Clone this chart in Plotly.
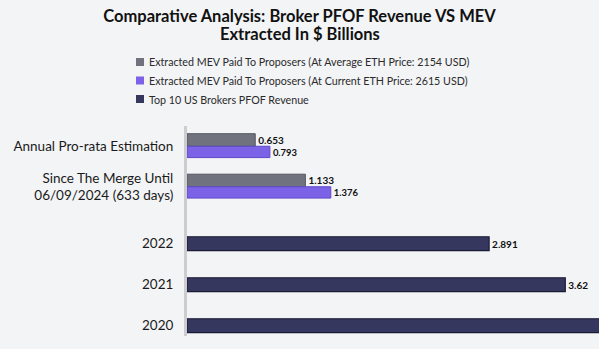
import plotly.graph_objects as go

# ---- data ----
mev_categories = ["Annual Pro-rata Estimation", "Since The Merge Until<br>06/09/2024 (633 days)"]
mev_avg_price = [0.653, 1.133]
mev_current_price = [0.793, 1.376]
pfof_years = ["2022", "2021", "2020"]
pfof_revenue = [2.891, 3.62, 4.30]

series_names = [
    "Extracted MEV Paid To Proposers (At Average ETH Price: 2154 USD)",
    "Extracted MEV Paid To Proposers (At Current ETH Price: 2615 USD)",
    "Top 10 US Brokers PFOF Revenue",
]
title_line1 = "Comparative Analysis: Broker PFOF Revenue VS MEV"
title_line2 = "Extracted In $ Billions"

# ---- style ----
W, H = 599, 349
L = 187
BG = "#f3f4f6"
C_GRAY, C_PURPLE, C_NAVY = "#70737e", "#7b62e6", "#36375e"
FONT = "Lato"
x_max = (W - L) / 104.5


def py(px):
    return 1 - px / H


def pxx(px):
    return (px - L) / (W - L)


def labels(vals):
    return [f"{v:g}" if v <= x_max else "" for v in vals]


fig = go.Figure()
lab_font = dict(family=FONT, size=10, color="#111111", weight="bold")

fig.add_trace(go.Bar(
    y=mev_categories, x=mev_avg_price, orientation="h", name=series_names[0],
    marker=dict(color=C_GRAY, line=dict(color="#55585f", width=1)),
    offset=-0.31, width=0.31, text=labels(mev_avg_price),
    textposition="outside", textfont=lab_font, cliponaxis=False,
    xaxis="x", yaxis="y",
))
fig.add_trace(go.Bar(
    y=mev_categories, x=mev_current_price, orientation="h", name=series_names[1],
    marker=dict(color=C_PURPLE, line=dict(color="#5f48c8", width=1)),
    offset=0.0, width=0.28, text=labels(mev_current_price),
    textposition="outside", textfont=lab_font, cliponaxis=False,
    xaxis="x", yaxis="y",
))
fig.add_trace(go.Bar(
    y=pfof_years, x=pfof_revenue, orientation="h", name=series_names[2],
    marker=dict(color=C_NAVY, line=dict(color="#1b1b36", width=1.2)),
    offset=-0.17, width=0.34, text=labels(pfof_revenue),
    textposition="outside", textfont=lab_font, cliponaxis=True,
    xaxis="x2", yaxis="y2",
))

# legend drawn as squares + text
legend_y = [62, 80.5, 99]
for nm, col, yy in zip(series_names, [C_GRAY, C_PURPLE, C_NAVY], legend_y):
    fig.add_shape(type="rect", xref="paper", yref="paper",
                  x0=pxx(136), x1=pxx(144), y0=py(yy + 4), y1=py(yy - 4),
                  fillcolor=col, line=dict(width=0))
    fig.add_annotation(xref="paper", yref="paper", x=pxx(146.5), y=py(yy),
                       xanchor="left", yanchor="middle", showarrow=False, text=nm,
                       font=dict(family=FONT, size=10.7, color="#2a2a2a"))

# second title line
fig.add_annotation(xref="paper", yref="paper", x=pxx(300), y=py(34),
                   xanchor="center", yanchor="middle", showarrow=False, text=title_line2,
                   font=dict(family=FONT, size=16.5, color="#111111", weight="bold"))

top_dom = [py(207), py(126)]
bot_dom = [py(336), py(207)]

axis_common = dict(
    showline=True, linecolor="#cdcdcf", linewidth=3, ticks="",
    tickfont=dict(family=FONT, size=13.5, color="#1a1a1a"),
    ticklabelstandoff=8, showgrid=False, zeroline=False, automargin=False,
)

fig.update_layout(
    width=W, height=H,
    paper_bgcolor=BG, plot_bgcolor=BG,
    margin=dict(l=L, r=0, t=0, b=0, autoexpand=False),
    barmode="overlay",
    showlegend=False,
    title=dict(text=title_line1, x=0.5, xref="container", xanchor="center",
               yref="container", y=1 - 16 / H, yanchor="middle", automargin=False,
               font=dict(family=FONT, size=16.5, color="#111111", weight="bold")),
    xaxis=dict(domain=[0, 1], range=[0, x_max], visible=False, anchor="y", automargin=False),
    xaxis2=dict(domain=[0, 1], range=[0, x_max], visible=False, anchor="y2", automargin=False),
    yaxis=dict(domain=top_dom, anchor="x", type="category", range=[1.5, -0.5], **axis_common),
    yaxis2=dict(domain=bot_dom, anchor="x2", type="category", range=[2.25, -0.895], **axis_common),
)

fig.write_html("out.html")
